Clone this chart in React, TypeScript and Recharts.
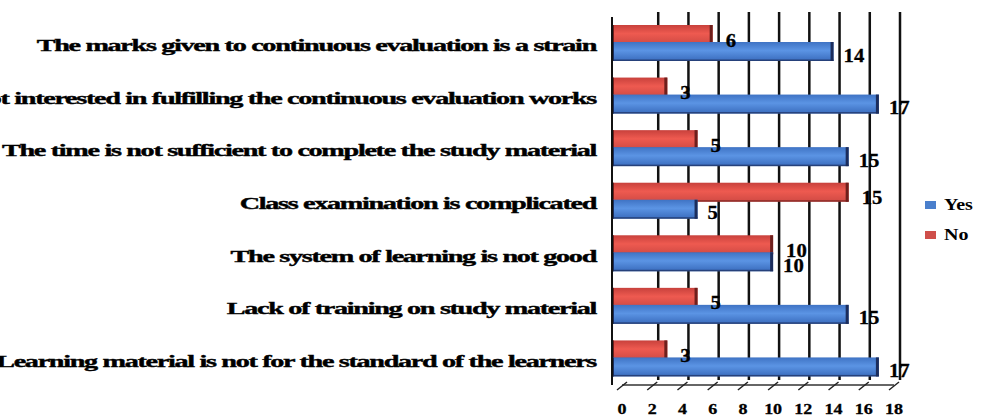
import { BarChart, Bar, XAxis, YAxis, CartesianGrid, LabelList } from 'recharts';

const statements = [
  'The marks given to continuous evaluation is a strain',
  'Not interested in fulfilling the continuous evaluation works',
  'The time is not sufficient to complete the study material',
  'Class examination is complicated',
  'The system of learning is not good',
  'Lack of training on study material',
  'Learning material is not for the standard of the learners',
];
const yesCounts = [14, 17, 15, 5, 10, 15, 17];
const noCounts = [6, 3, 5, 15, 10, 5, 3];
const countTicks = [0, 2, 4, 6, 8, 10, 12, 14, 16, 18];
const wallTicks = countTicks.slice(1);
const seriesNames = ['Yes', 'No'];
const seriesColors = ['#4a7fcc', '#cf4f4a'];

const data = statements.map((name, i) => ({ name, Yes: yesCounts[i], No: noCounts[i] }));

const SERIF = "'Liberation Serif', 'DejaVu Serif', serif";
const DEPTH = 10; // how far the bar's side face pokes out left of zero

const css = `
  .wall .recharts-cartesian-grid { transform: translate(6px, -5px); }
  .wall .recharts-yAxis .recharts-cartesian-axis-line { transform: translateX(-10px); }
`;

function StatementTick({ x, y, payload }: any) {
  return (
    <g transform={`translate(${x},${y}) scale(1.66,1)`}>
      <text x={0} y={0} dy={8} textAnchor="end" fontFamily={SERIF} fontWeight="bold"
        fontSize={17} letterSpacing={-0.8} fill="#000" stroke="#000" strokeWidth={0.4}>
        {payload.value}
      </text>
    </g>
  );
}

function CountTick({ x, y, payload }: any) {
  return (
    <g>
      <line x1={x - 5} y1={y + 3} x2={x + 5} y2={y - 5} stroke="#222" strokeWidth={1.5} />
      <g transform={`translate(${x},${y + 27}) scale(1.2,1)`}>
        <text x={0} y={0} textAnchor="middle" fontFamily={SERIF} fontWeight="bold"
          fontSize={15} fill="#000" stroke="#000" strokeWidth={0.3}>
          {payload.value}
        </text>
      </g>
    </g>
  );
}

function Slab({ x, y, width, height, grad, edge }: any) {
  if (width == null || height == null) return null;
  const left = x - DEPTH;
  const w = width + DEPTH;
  return (
    <g>
      <rect x={left} y={y} width={w} height={height} fill={`url(#${grad})`} />
      <rect x={left} y={y} width={2} height={height} fill={edge} />
      <rect x={left} y={y + height - 1.5} width={w} height={1.5} fill={edge} opacity={0.7} />
      <rect x={x + width - 3} y={y} width={3} height={height} fill={edge} />
    </g>
  );
}

const valueLabel = (shiftX: number, shiftY: number) => (p: any) => (
  <g transform={`translate(${p.x + p.width + shiftX},${p.y + p.height / 2 + shiftY}) scale(1.15,1)`}>
    <text x={0} y={0} dominantBaseline="central" fontFamily={SERIF} fontWeight="bold"
      fontSize={18} fill="#000" stroke="#000" strokeWidth={0.3}>
      {p.value}
    </text>
  </g>
);

function LegendBox() {
  return (
    <div style={{ position: 'absolute', left: 925, top: 190, fontFamily: SERIF, fontWeight: 'bold', fontSize: 16 }}>
      {seriesNames.map((label, i) => (
        <div key={label} style={{ display: 'flex', alignItems: 'center', height: 30 }}>
          <span style={{ width: 11, height: 8, background: seriesColors[i], marginRight: 8 }} />
          <span style={{ display: 'inline-block', transform: 'scale(1.25,1)', transformOrigin: 'left' }}>{label}</span>
        </div>
      ))}
    </div>
  );
}

export default function App() {
  return (
    <div className="wall" style={{ position: 'absolute', left: 0, top: 0, width: 988, height: 417, background: '#fff' }}>
      <style>{css}</style>
      <BarChart width={988} height={417} data={data} layout="vertical"
        margin={{ top: 17, right: 94, bottom: 0, left: 0 }} barSize={19} barGap={-2}>
        <defs>
          <linearGradient id="gradYes" x1="0" y1="0" x2="0" y2="1">
            <stop offset="0%" stopColor="#3f73c4" />
            <stop offset="45%" stopColor="#5b94e4" />
            <stop offset="100%" stopColor="#3a6cbd" />
          </linearGradient>
          <linearGradient id="gradNo" x1="0" y1="0" x2="0" y2="1">
            <stop offset="0%" stopColor="#c8413c" />
            <stop offset="45%" stopColor="#ee5a50" />
            <stop offset="100%" stopColor="#d04a44" />
          </linearGradient>
        </defs>
        <CartesianGrid horizontal={false} verticalValues={wallTicks} stroke="#111" strokeWidth={2.5} />
        <XAxis type="number" domain={[0, 18]} ticks={countTicks} interval={0}
          axisLine={{ stroke: '#333', strokeWidth: 1.5 }} tickLine={false} tickSize={0} height={32}
          tick={<CountTick />} />
        <YAxis type="category" dataKey="name" width={622} tickLine={false} tickSize={0} tickMargin={26}
          axisLine={{ stroke: '#111', strokeWidth: 2 }} interval={0} tick={<StatementTick />} />
        <Bar dataKey="No" isAnimationActive={false}
          shape={(p: any) => <Slab {...p} grad="gradNo" edge="#6e1f1c" />}>
          <LabelList dataKey="No" content={valueLabel(13, 6)} />
        </Bar>
        <Bar dataKey="Yes" isAnimationActive={false}
          shape={(p: any) => <Slab {...p} grad="gradYes" edge="#1c2d5c" />}>
          <LabelList dataKey="Yes" content={valueLabel(10, 4)} />
        </Bar>
      </BarChart>
      <LegendBox />
    </div>
  );
}
